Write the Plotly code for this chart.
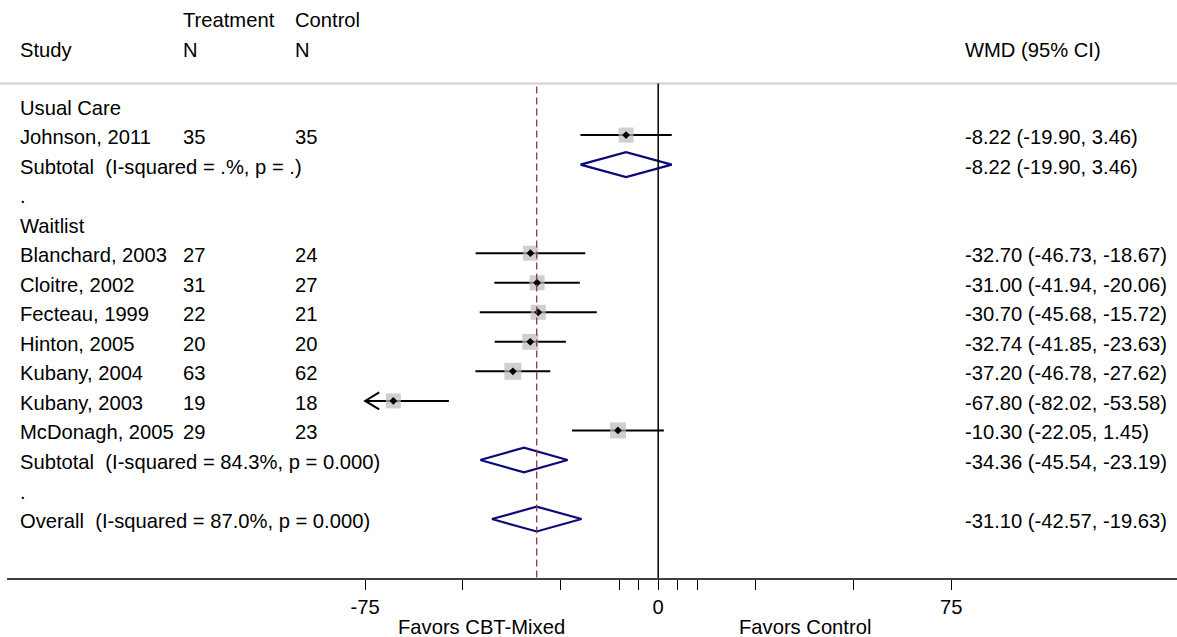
import plotly.graph_objects as go

# ---------------- data ----------------
group_names = ["Usual Care", "Waitlist"]
studies = ["Johnson, 2011", "Blanchard, 2003", "Cloitre, 2002", "Fecteau, 1999",
           "Hinton, 2005", "Kubany, 2004", "Kubany, 2003", "McDonagh, 2005"]
study_group = [0, 1, 1, 1, 1, 1, 1, 1]
treat_n = [35, 27, 31, 22, 20, 63, 19, 29]
ctrl_n = [35, 24, 27, 21, 20, 62, 18, 23]
wmd = [-8.22, -32.70, -31.00, -30.70, -32.74, -37.20, -67.80, -10.30]
ci_lo = [-19.90, -46.73, -41.94, -45.68, -41.85, -46.78, -82.02, -22.05]
ci_hi = [3.46, -18.67, -20.06, -15.72, -23.63, -27.62, -53.58, 1.45]

pooled_labels = ["Subtotal  (I-squared = .%, p = .)",
                 "Subtotal  (I-squared = 84.3%, p = 0.000)",
                 "Overall  (I-squared = 87.0%, p = 0.000)"]
pooled_wmd = [-8.22, -34.36, -31.10]
pooled_lo = [-19.90, -45.54, -42.57]
pooled_hi = [3.46, -23.19, -19.63]

tick_vals = [-75, -50, -25, -10, -5, 0, 5, 10, 25, 50, 75]
tick_text = ["-75", "", "", "", "", "0", "", "", "", "", "75"]
favors_left = "Favors CBT-Mixed"
favors_right = "Favors Control"

# ---------------- style / layout constants ----------------
W, H = 1177, 637
ML, MB = 7, 59
PX_PER_UNIT = 3.907
ZERO_PX = 658.2
ROW0_PX = 105.5
ROW_PX = 29.54
CLIP_LO = -75
box_sizes = [15, 15, 15, 15, 16, 17, 15, 16]
FONT = "Arial, Liberation Sans, sans-serif"
FS = 20.2
TEXT_SHIFT = -2

plot_w = W - ML
plot_h = H - MB
x_min = -(ZERO_PX - ML) / PX_PER_UNIT
x_max = (W - ZERO_PX) / PX_PER_UNIT
y_top = -ROW0_PX / ROW_PX
y_bot = (plot_h - ROW0_PX) / ROW_PX


def px_to_x(px):
    return (px - ZERO_PX) / PX_PER_UNIT


def px_to_row(py):
    return (py - ROW0_PX) / ROW_PX


def px_to_paper_y(py):
    return 1 - py / plot_h


COL_STUDY = px_to_x(18)
COL_TREAT = px_to_x(181)
COL_CTRL = px_to_x(293)
COL_WMD = px_to_x(963)

# ---------------- build rows ----------------
rows = []  # (kind, index or label)
for g, gname in enumerate(group_names):
    rows.append(("label", gname))
    for i, sg in enumerate(study_group):
        if sg == g:
            rows.append(("study", i))
    rows.append(("pooled", g))
    rows.append(("label", "."))
rows.append(("pooled", 2))

fig = go.Figure()
annotations = []


def txt(x, y, s, **kw):
    annotations.append(dict(x=x, y=y, xref="x", yref="y", text=s, showarrow=False,
                            xanchor="left", yanchor="middle", yshift=TEXT_SHIFT,
                            font=dict(family=FONT, size=FS, color="black"), **kw))


def fmt(w, lo, hi):
    return f"{w:.2f} ({lo:.2f}, {hi:.2f})"


# headers
txt(COL_TREAT, px_to_row(18), "Treatment")
txt(COL_CTRL, px_to_row(18), "Control")
txt(COL_STUDY, px_to_row(48), "Study")
txt(COL_TREAT, px_to_row(48), "N")
txt(COL_CTRL, px_to_row(48), "N")
txt(COL_WMD, px_to_row(48), "WMD (95% CI)")

ci_x, ci_y = [], []
arr_x, arr_y = [], []
box_x, box_y, box_s = [], [], []
dia_x, dia_y = [], []
DH = 0.42
for r, (kind, v) in enumerate(rows):
    if kind == "label":
        txt(COL_STUDY, r, v)
    elif kind == "study":
        i = v
        txt(COL_STUDY, r, studies[i])
        txt(COL_TREAT, r, str(treat_n[i]))
        txt(COL_CTRL, r, str(ctrl_n[i]))
        txt(COL_WMD, r, fmt(wmd[i], ci_lo[i], ci_hi[i]))
        lo = max(ci_lo[i], CLIP_LO)
        ci_x += [lo, ci_hi[i], None]
        ci_y += [r, r, None]
        if ci_lo[i] < CLIP_LO:
            d = 14 / PX_PER_UNIT
            h = 8.5 / ROW_PX
            arr_x += [CLIP_LO + d, CLIP_LO, CLIP_LO + d, None]
            arr_y += [r - h, r, r + h, None]
        box_x.append(wmd[i])
        box_y.append(r)
        box_s.append(box_sizes[i])
    else:
        k = v
        txt(COL_STUDY, r, pooled_labels[k])
        txt(COL_WMD, r, fmt(pooled_wmd[k], pooled_lo[k], pooled_hi[k]))
        dia_x += [pooled_lo[k], pooled_wmd[k], pooled_hi[k], pooled_wmd[k], pooled_lo[k], None]
        dia_y += [r, r - DH, r, r + DH, r, None]

overall_wmd = pooled_wmd[-1]
header_row = px_to_row(83.5)

shapes = [
    # header separator
    dict(type="line", xref="paper", yref="y", x0=-ML / plot_w, x1=1, y0=header_row, y1=header_row,
         line=dict(color="#CFCFCF", width=2)),
    # null line
    dict(type="line", xref="x", yref="y", x0=0, x1=0, y0=header_row, y1=y_bot,
         line=dict(color="black", width=1.5)),
    # overall effect line
    dict(type="line", xref="x", yref="y", x0=overall_wmd, x1=overall_wmd,
         y0=px_to_row(86.5), y1=y_bot,
         line=dict(color="#993340", width=1.3, dash="7px,4px")),
]

fig.add_trace(go.Scatter(x=ci_x, y=ci_y, mode="lines", line=dict(color="black", width=2),
                         hoverinfo="skip", showlegend=False))
fig.add_trace(go.Scatter(x=arr_x, y=arr_y, mode="lines", line=dict(color="black", width=2),
                         hoverinfo="skip", showlegend=False))
fig.add_trace(go.Scatter(x=box_x, y=box_y, mode="markers",
                         marker=dict(symbol="square", size=box_s, color="#BABABA", line=dict(width=0)),
                         hoverinfo="skip", showlegend=False))
fig.add_trace(go.Scatter(x=box_x, y=box_y, mode="markers",
                         marker=dict(symbol="diamond", size=6, color="black", line=dict(width=0)),
                         hoverinfo="skip", showlegend=False))
fig.add_trace(go.Scatter(x=dia_x, y=dia_y, mode="lines", line=dict(color="#0A0A78", width=2.2),
                         hoverinfo="skip", showlegend=False))

for label, xpx in ((favors_left, 481), (favors_right, 805)):
    annotations.append(dict(x=px_to_x(xpx), y=px_to_paper_y(627), xref="x", yref="paper", text=label,
                            showarrow=False, xanchor="center", yanchor="middle",
                            font=dict(family=FONT, size=FS, color="black")))

fig.update_layout(
    width=W, height=H,
    margin=dict(l=ML, r=0, t=0, b=MB),
    paper_bgcolor="white", plot_bgcolor="white",
    showlegend=False,
    shapes=shapes,
    annotations=annotations,
    xaxis=dict(range=[x_min, x_max], showgrid=False, zeroline=False,
               showline=True, linecolor="#404040", linewidth=1.5,
               ticks="outside", ticklen=10, tickwidth=1, tickcolor="black",
               tickvals=tick_vals, ticktext=tick_text,
               tickfont=dict(family=FONT, size=FS, color="black"),
               fixedrange=True),
    yaxis=dict(range=[y_bot, y_top], visible=False, fixedrange=True),
)

fig.write_html("out.html", config={"displayModeBar": False},
               post_script="document.body.style.margin='0';document.body.style.overflow='hidden';")
